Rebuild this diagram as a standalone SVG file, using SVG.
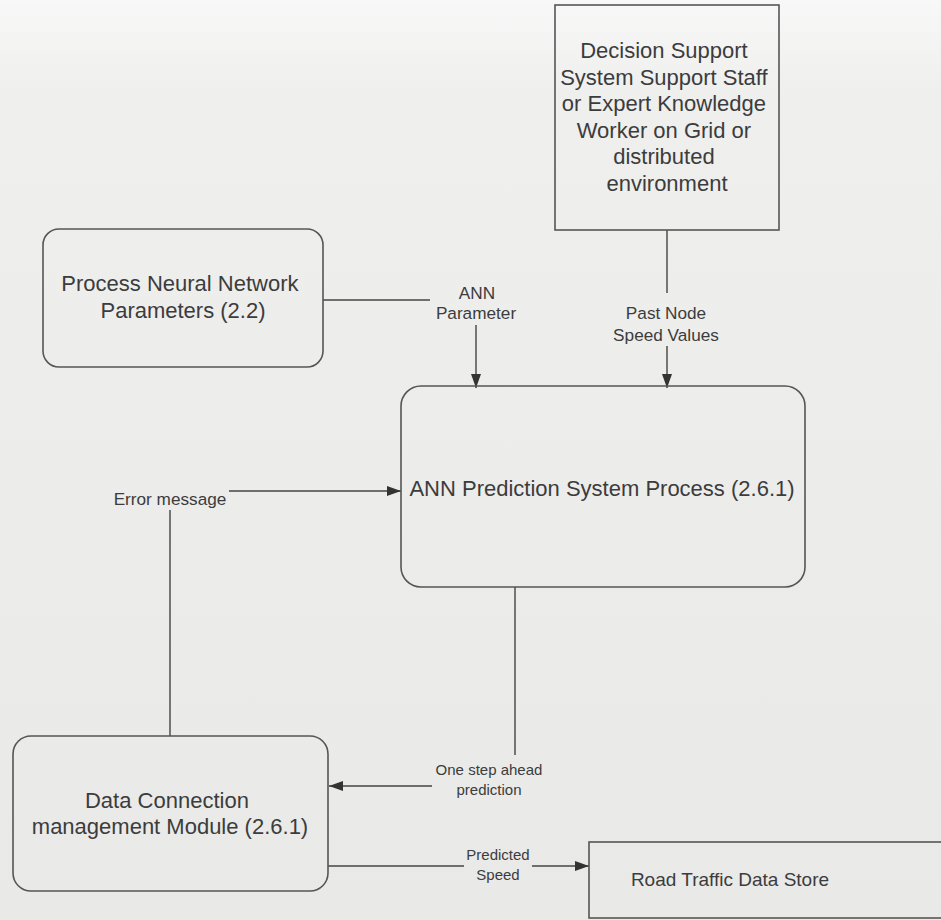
<svg xmlns="http://www.w3.org/2000/svg" width="941" height="920" viewBox="0 0 941 920">
  <defs>
    <linearGradient id="paper" x1="0" y1="0" x2="0" y2="1">
      <stop offset="0" stop-color="#f8f8f8"/>
      <stop offset="0.1" stop-color="#efefee"/>
      <stop offset="1" stop-color="#e9e9e8"/>
    </linearGradient>
    <marker id="arrow" viewBox="0 0 14 10" refX="14" refY="5" markerWidth="14" markerHeight="10" markerUnits="userSpaceOnUse" orient="auto">
      <path d="M0,0 L14,5 L0,10 Z" fill="#333"/>
    </marker>
    <style>
      .box { fill: none; stroke: #555; stroke-width: 1.6; }
      .line { fill: none; stroke: #444; stroke-width: 1.4; }
      .node-text { font-family: "Liberation Sans", Arial, sans-serif; fill: #3c3c3c; text-anchor: middle; font-size: 22px; }
      .label { font-family: "Liberation Sans", Arial, sans-serif; fill: #3c3c3c; text-anchor: middle; font-size: 15px; }
      .label.big { font-size: 17.2px; }
      .store-text { font-size: 19px; }
    </style>
  </defs>

  <rect width="941" height="920" fill="url(#paper)"/>

  <!-- connectors -->
  <g id="connectors">
    <!-- ANN Parameter -->
    <polyline class="line" points="323,300 430,300"/>
    <line class="line" x1="476" y1="325" x2="476" y2="388" marker-end="url(#arrow)"/>
    <!-- Past Node Speed Values -->
    <line class="line" x1="667" y1="230" x2="667" y2="293"/>
    <line class="line" x1="667" y1="346" x2="667" y2="388" marker-end="url(#arrow)"/>
    <!-- Error message -->
    <line class="line" x1="170" y1="736" x2="170" y2="510"/>
    <line class="line" x1="229" y1="491" x2="401" y2="491" marker-end="url(#arrow)"/>
    <!-- One step ahead prediction -->
    <line class="line" x1="515" y1="587" x2="515" y2="755"/>
    <line class="line" x1="432" y1="786" x2="329" y2="786" marker-end="url(#arrow)"/>
    <!-- Predicted Speed -->
    <line class="line" x1="328" y1="866" x2="464" y2="866"/>
    <line class="line" x1="532" y1="866" x2="589" y2="866" marker-end="url(#arrow)"/>

    <text class="label big" x="477" y="299">ANN</text>
    <text class="label big" x="476" y="319">Parameter</text>
    <text class="label big" x="666" y="319">Past Node</text>
    <text class="label big" x="666" y="341">Speed Values</text>
    <text class="label big" x="170" y="505">Error message</text>
    <text class="label" x="489" y="775">One step ahead</text>
    <text class="label" x="489" y="795">prediction</text>
    <text class="label" x="498" y="860">Predicted</text>
    <text class="label" x="498" y="880">Speed</text>
  </g>

  <g id="decision-support-staff">
    <rect class="box" x="555" y="5" width="224" height="225"/>
    <text class="node-text">
      <tspan x="667" y="58">Decision Support</tspan>
      <tspan x="667" y="84.5">System Support Staff</tspan>
      <tspan x="667" y="111">or Expert Knowledge</tspan>
      <tspan x="667" y="137.5">Worker on Grid or</tspan>
      <tspan x="667" y="164">distributed</tspan>
      <tspan x="667" y="190.5">environment</tspan>
    </text>
  </g>

  <g id="process-nn-parameters">
    <rect class="box" x="43" y="229" width="280" height="138" rx="16"/>
    <text class="node-text">
      <tspan x="183" y="291">Process Neural Network</tspan>
      <tspan x="183" y="318">Parameters (2.2)</tspan>
    </text>
  </g>

  <g id="ann-prediction">
    <rect class="box" x="401" y="386" width="404" height="201" rx="20"/>
    <text class="node-text" x="602" y="496">ANN Prediction System Process (2.6.1)</text>
  </g>

  <g id="data-connection">
    <rect class="box" x="13" y="736" width="315" height="155" rx="18"/>
    <text class="node-text">
      <tspan x="170" y="808">Data Connection</tspan>
      <tspan x="170" y="834">management Module (2.6.1)</tspan>
    </text>
  </g>

  <g id="road-traffic-store">
    <rect class="box" x="589" y="842" width="360" height="76"/>
    <text class="node-text store-text" x="730" y="886">Road Traffic Data Store</text>
  </g>
</svg>
